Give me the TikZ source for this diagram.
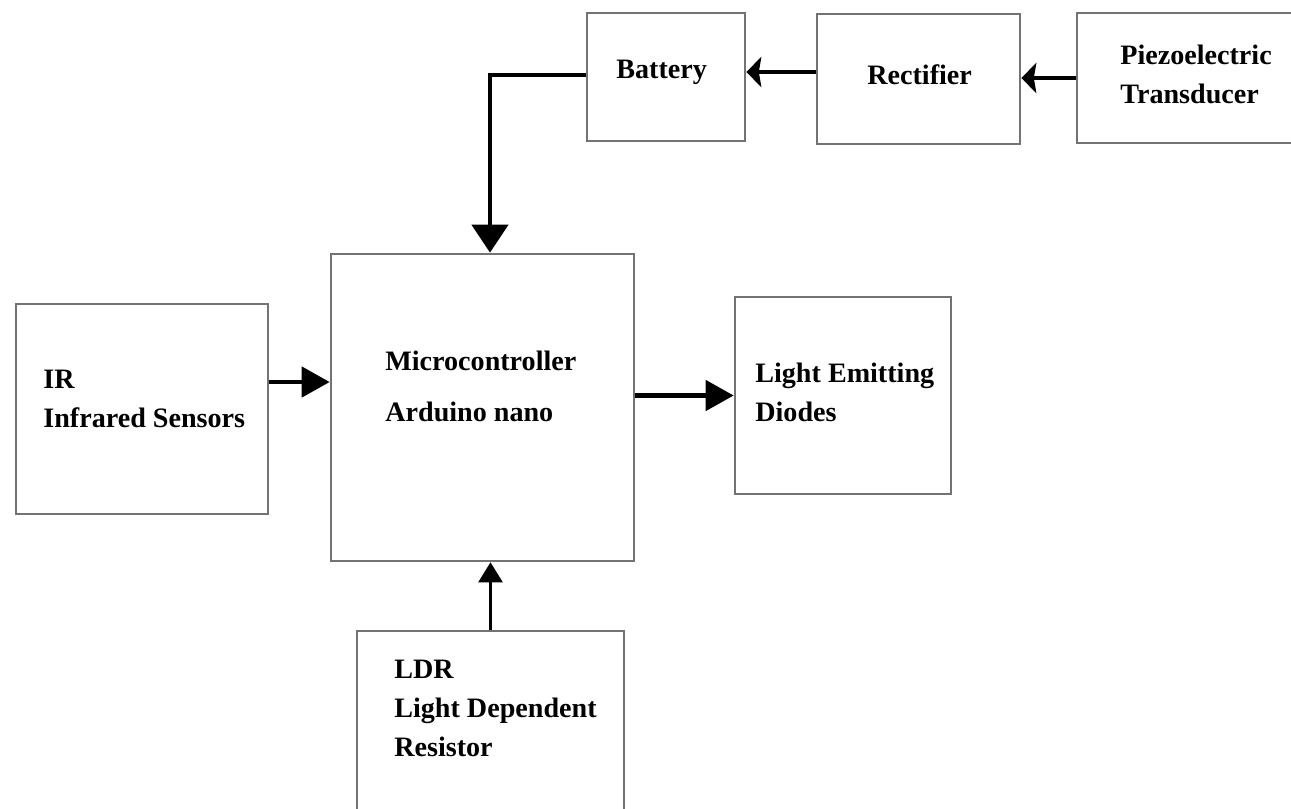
\documentclass[tikz,border=0pt]{standalone}
\usepackage{fontspec}
\setmainfont{Liberation Serif}
\usetikzlibrary{arrows.meta}

\begin{document}
\begin{tikzpicture}[x=0.02cm, y=-0.02cm,
    blk/.style={draw=black!55, line width=1.5pt, inner sep=0pt},
    lbl/.style={anchor=north west, inner sep=0pt, align=left,
      font=\fontsize{16}{22}\selectfont\bfseries},
    bigflow/.style={line width=2.6pt, -{Triangle[length=0.56cm, width=0.72cm]}},
    flow/.style={line width=2.6pt, -{Triangle[length=0.56cm, width=0.6cm]}},
    barb/.style={line width=2.6pt, -{Stealth[length=0.3cm, width=0.6cm, inset=0.05cm]}},
    thinflow/.style={line width=1.4pt, -{Triangle[length=0.4cm, width=0.48cm]}}]
  \useasboundingbox (0,0) rectangle (1291,808);
  \clip (0,0) rectangle (1291,808);

  % blocks
  \node[blk, minimum width=3.16cm, minimum height=2.56cm] (bat) at (666,77) {};
  \node[blk, minimum width=4.06cm, minimum height=2.60cm] (rect) at (918.5,79) {};
  \node[blk, minimum width=4.66cm, minimum height=2.60cm] (piezo) at (1193.5,78) {};
  \node[blk, minimum width=6.06cm, minimum height=6.14cm] (micro) at (482.5,407.5) {};
  \node[blk, minimum width=5.04cm, minimum height=4.20cm] (ir) at (142,409) {};
  \node[blk, minimum width=4.32cm, minimum height=3.94cm] (led) at (843,395.5) {};
  \node[blk, minimum width=5.34cm, minimum height=3.98cm] (ldr) at (490.5,730.5) {};

  % labels
  \node[lbl] (battxt) at (616,60) {Battery};
  \node[lbl] (recttxt) at (867,64) {Rectifier};
  \node[lbl] (piezotxt) at (1120,45) {Piezoelectric\\Transducer};
  \node[lbl] (microtxt) at (385,351) {Microcontroller\\[7pt]Arduino nano};
  \node[lbl] (irtxt) at (43,370) {IR\\Infrared Sensors};
  \node[lbl] (ledtxt) at (755,363) {Light Emitting\\Diodes};
  \node[lbl] (ldrtxt) at (394,660) {LDR\\Light Dependent\\Resistor};

  % connections
  \coordinate (irout) at ([yshift=0.54cm]ir.east);
  \coordinate (rectout) at ([yshift=0.14cm]rect.west);
  \draw[bigflow] ([yshift=0.04cm]bat.west) -| ([xshift=0.15cm]micro.north);
  \draw[barb] (rectout) -- (bat.east |- rectout);
  \draw[barb] (piezo.west) -- (rect.east |- piezo.west);
  \draw[flow] (irout) -- (micro.west |- irout);
  \draw[flow] (micro.east |- led.west) -- (led.west);
  \draw[thinflow] (ldr.north) -- (ldr.north |- micro.south);
\end{tikzpicture}
\end{document}
